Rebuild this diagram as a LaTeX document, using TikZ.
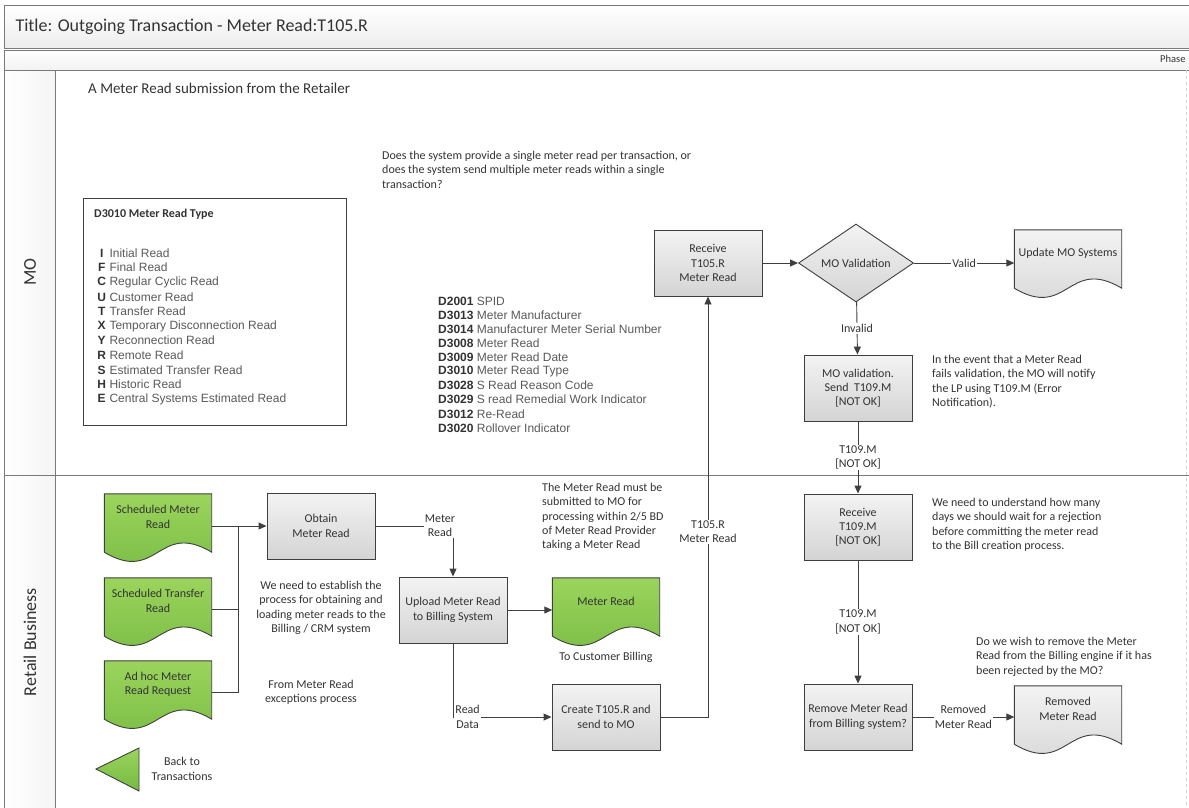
\documentclass[tikz,border=0pt]{standalone}
\usepackage{fontspec}
\setmainfont{Carlito}
\newfontfamily\arialfont{Liberation Sans}
\usetikzlibrary{shapes.geometric,arrows.meta,backgrounds}

\definecolor{linegray}{HTML}{3F3F3F}
\definecolor{framegray}{HTML}{7A7A7A}
\definecolor{boxtop}{HTML}{F3F3F3}
\definecolor{boxbot}{HTML}{D4D4D4}
\definecolor{greentop}{HTML}{9BD45C}
\definecolor{greenbot}{HTML}{76BA43}
\definecolor{inkgray}{HTML}{333333}

\newcommand{\drawdoc}[2]{%
  \begin{scope}[on background layer]
    \path[draw=linegray, line width=0.9pt, #2] (#1.north west) -- (#1.north east)
      -- ([yshift=-12pt]#1.south east)
      .. controls ([yshift=20pt]#1.south) and ([yshift=-44pt]#1.south) ..
      ([yshift=-12pt]#1.south west) -- cycle;
  \end{scope}}

\begin{document}
\begin{tikzpicture}
        [x=1pt, y=-1pt, every node/.style={text=inkgray},
         box/.style={draw=linegray, line width=0.9pt, top color=boxtop, bottom color=boxbot, minimum width=108pt, minimum height=66pt, align=center, inner sep=1pt, font=\fontsize{12}{14.3}\selectfont},
         decision/.style={diamond, draw=linegray, line width=0.9pt, top color=boxtop, bottom color=boxbot, minimum width=115pt, minimum height=64pt, inner sep=0pt, font=\fontsize{12}{14.3}\selectfont},
         doc/.style={minimum width=107pt, minimum height=46pt, align=center, inner sep=1pt, font=\fontsize{12}{14.3}\selectfont},
         note/.style={align=left, anchor=north west, inner sep=0pt, font=\fontsize{12}{14.3}\selectfont},
         item/.style={anchor=west, inner sep=0pt, font=\arialfont\fontsize{12}{14}\selectfont},
         lbl/.style={fill=white, align=center, inner sep=1pt, font=\fontsize{12}{14.3}\selectfont},
         flow/.style={draw=linegray, line width=0.9pt, -{Triangle[length=8pt,width=7pt]}},
         link/.style={draw=linegray, line width=0.9pt},
         lane/.style={draw=framegray, line width=0.8pt}]
        \useasboundingbox (0,0) rectangle (1189,807);
        \path[lane, top color=white, bottom color=gray!14] (4,5) rectangle (1200,48);
        \path[lane, top color=white, bottom color=gray!10] (4,50) rectangle (1200,70);
        \path[lane, left color=white, right color=gray!8] (4,70) rectangle (55,830);
        \path[lane] (4,70) rectangle (1200,830);
        \path[lane] (4,475) -- (1200,475);
        \draw[gray!35, dashed] (1186,70) -- (1186,807);
        \path node (title) at (12,27) [anchor=west, font=\fontsize{18}{21}\selectfont] {Title: Outgoing Transaction - Meter Read:T105.R}
              node (phase) at (1160,59) [anchor=west, inner sep=0pt, font=\fontsize{10.5}{12}\selectfont] {Phase}
              node (molane) at (30,272) [rotate=90, font=\fontsize{18}{20}\selectfont] {MO}
              node (retaillane) at (30,642) [rotate=90, font=\fontsize{18}{20}\selectfont] {Retail Business}
              node (intro) at (88,88) [anchor=west, inner sep=0pt, font=\fontsize{15}{17}\selectfont] {A Meter Read submission from the Retailer};
        \draw[linegray, line width=0.8pt] (83,198) rectangle (346,425);
        \path node (typetitle) at (94,214) [anchor=west, inner sep=0pt, font=\bfseries\fontsize{12}{14}\selectfont] {D3010 Meter Read Type};
        \foreach \c/\t [count=\i from 0] in {I/Initial Read, F/Final Read, C/Regular Cyclic Read, U/Customer Read, T/Transfer Read, X/Temporary Disconnection Read, Y/Reconnection Read, R/Remote Read, S/Estimated Transfer Read, H/Historic Read, E/Central Systems Estimated Read}
          \path node (type\i) at (97,253+14.6*\i) [item] {\makebox[9pt]{\textbf{\c}} \textcolor{black!65}{\t}};
        \foreach \c/\t [count=\i from 0] in {D2001/SPID, D3013/Meter Manufacturer, D3014/Manufacturer Meter Serial Number, D3008/Meter Read, D3009/Meter Read Date, D3010/Meter Read Type, D3028/S Read Reason Code, D3029/S read Remedial Work Indicator, D3012/Re-Read, D3020/Rollover Indicator}
          \path node (data\i) at (438,301+14.1*\i) [item] {\textbf{\c} \textcolor{black!65}{\t}};
        \path node (askq) at (382,151) [note] {Does the system provide a single meter read per transaction, or\\does the system send multiple meter reads within a single\\transaction?}
              node (failnote) at (932,355) [note] {In the event that a Meter Read\\fails validation, the MO will notify\\the LP using T109.M (Error\\Notification).}
              node (waitnote) at (932,498) [note] {We need to understand how many\\days we should wait for a rejection\\before committing the meter read\\to the Bill creation process.}
              node (removenote) at (976,637) [note] {Do we wish to remove the Meter\\Read from the Billing engine if it has\\been rejected by the MO?}
              node (deadlinenote) at (542,483) [note] {The Meter Read must be\\submitted to MO for\\processing within 2/5 BD\\of Meter Read Provider\\taking a Meter Read}
              node (establishnote) at (321,608) [note, anchor=center, align=center] {We need to establish the\\process for obtaining and\\loading meter reads to the\\Billing / CRM system}
              node (exceptnote) at (311,692) [note, anchor=center, align=center] {From Meter Read\\exceptions process}
              node (billingnote) at (606,657) [note, anchor=center] {To Customer Billing}
              node (backnote) at (182,769) [note, anchor=center, align=center] {Back to\\Transactions};
        \path node (rcv105) at (708,263) [box] {Receive\\T105.R\\Meter Read}
              node (mocheck) at (856,263) [decision] {MO Validation}
              node (updmo) at (1068,253) [doc] {Update MO Systems}
              node (moval) at (858,388) [box] {MO validation.\\Send\ \ T109.M\\{[NOT OK]}}
              node (rcv109) at (858,527) [box] {Receive\\T109.M\\{[NOT OK]}}
              node (remove) at (858,717) [box] {Remove Meter Read\\from Billing system?}
              node (removed) at (1068,709) [doc] {Removed\\Meter Read}
              node (sched) at (158,517) [doc] {Scheduled Meter\\Read}
              node (transfer) at (158,601) [doc] {Scheduled Transfer\\Read}
              node (adhoc) at (158,684) [doc] {Ad hoc Meter\\Read Request}
              node (obtain) at (321,526) [box] {Obtain\\Meter Read}
              node (upload) at (453,610) [box] {Upload Meter Read\\to Billing System}
              node (mrdoc) at (606,601) [doc] {Meter Read}
              node (create) at (606,717) [box] {Create T105.R and\\send to MO};
        \drawdoc{updmo}{top color=boxtop, bottom color=boxbot}
        \drawdoc{removed}{top color=boxtop, bottom color=boxbot}
        \drawdoc{sched}{top color=greentop, bottom color=greenbot}
        \drawdoc{transfer}{top color=greentop, bottom color=greenbot}
        \drawdoc{adhoc}{top color=greentop, bottom color=greenbot}
        \drawdoc{mrdoc}{top color=greentop, bottom color=greenbot}
        \path[draw=linegray, line width=0.9pt, top color=greentop, bottom color=greenbot] (96,769) -- (139,748) -- (139,791) -- cycle;
        \coordinate (join) at (238,526);
        \draw[flow] (rcv105) -- (mocheck);
        \draw[flow] (mocheck.east) -- node[lbl] {Valid} (mocheck.east -| updmo.west);
        \draw[flow] (mocheck) -- node[lbl] {Invalid} (moval);
        \draw[flow] (moval) -- node[lbl] {T109.M\\{[NOT OK]}} (rcv109);
        \draw[flow] (rcv109) -- node[lbl] {T109.M\\{[NOT OK]}} (remove);
        \draw[flow] (remove.east) -- node[lbl] {Removed\\Meter Read} (remove.east -| removed.west);
        \draw[flow] (sched.east |- obtain.west) -- (obtain.west);
        \draw[link] ([yshift=-8pt]transfer.east) -| (join);
        \draw[link] ([yshift=-8pt]adhoc.east) -| (join);
        \draw[flow] (obtain.east) -| node[lbl, pos=0.5, xshift=-13pt] {Meter\\Read} (upload.north);
        \draw[flow] (upload.east) -- (upload.east -| mrdoc.west);
        \draw[flow] (upload.south) |- node[lbl, pos=0.5, anchor=west, xshift=1pt] {Read\\Data} (create.west);
        \draw[flow] (create.east) -| node[lbl, pos=0.72] {T105.R\\Meter Read} (rcv105.south);
\end{tikzpicture}
\end{document}
